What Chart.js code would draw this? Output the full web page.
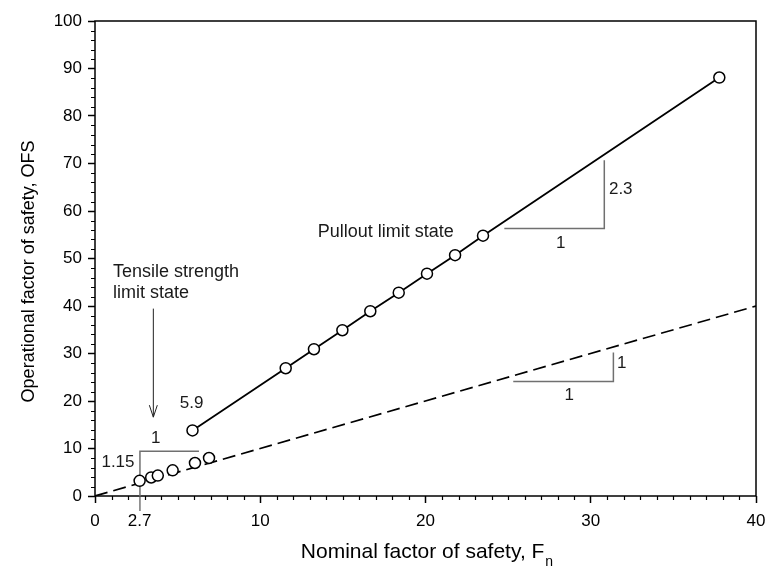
<!DOCTYPE html>
<html>
<head>
<meta charset="utf-8">
<script src="https://cdn.jsdelivr.net/npm/chart.js@4.4.0/dist/chart.umd.min.js"></script>
<style>
  html, body { margin: 0; padding: 0; background: #fff; }
  #wrap { width: 766px; height: 576px; }
</style>
</head>
<body>
<div id="wrap"><canvas id="chart" width="766" height="576"></canvas></div>
<script>
// Pullout limit state (upper line)
const pulloutFn = [5.9, 11.54, 13.25, 14.97, 16.66, 18.38, 20.09, 21.79, 23.48, 37.78];
const pulloutOFS = [13.8, 26.9, 30.9, 34.9, 38.9, 42.8, 46.8, 50.7, 54.8, 88.1];

// Tensile strength limit state (lower points)
const tensileFn = [2.7, 3.4, 3.8, 4.7, 6.05, 6.9];
const tensileOFS = [3.2, 3.9, 4.3, 5.4, 6.95, 8.0];

// 1:1 reference line
const refFn = [0, 40];
const refOFS = [0, 40];

// tick labels
const xTickValues = [0, 2.7, 10, 20, 30, 40];
const yTickValues = [0, 10, 20, 30, 40, 50, 60, 70, 80, 90, 100];

const FONT = "'Liberation Sans', Arial, sans-serif";
const toPoints = (xs, ys) => xs.map((x, i) => ({ x: x, y: ys[i] }));

// slope triangles, arrows and text labels, in data coordinates
const annotations = {
  lines: [
    { pts: [[24.77, 56.3], [30.82, 56.3], [30.82, 70.7]], color: "#707070" },
    { pts: [[25.31, 24.1], [31.37, 24.1], [31.37, 30.2]], color: "#707070" },
    { pts: [[6.29, 9.4], [2.72, 9.4], [2.72, 0]], color: "#707070" }
  ],
  texts: [
    { text: "2.3", x: 31.1, y: 64.5, align: "left", size: 17 },
    { text: "1", x: 28.18, y: 53.3, align: "center", size: 17 },
    { text: "1", x: 31.87, y: 27.9, align: "center", size: 17 },
    { text: "1", x: 28.7, y: 21.2, align: "center", size: 17 },
    { text: "1.15", x: 1.39, y: 7.1, align: "center", size: 17 },
    { text: "1", x: 3.67, y: 12.05, align: "center", size: 17 },
    { text: "5.9", x: 5.85, y: 19.6, align: "center", size: 17 },
    { text: "Pullout limit state", x: 17.6, y: 55.5, align: "center", size: 18 },
    { text: "Tensile strength", x: 1.09, y: 47.2, align: "left", size: 18 },
    { text: "limit state", x: 1.09, y: 42.7, align: "left", size: 18 }
  ],
  arrow: { x: 3.53, yTop: 39.45, yBottom: 16.6 }
};

const decorPlugin = {
  id: "decor",
  beforeDatasetsDraw(chart) {
    const { ctx, chartArea: a, scales: { x, y } } = chart;
    ctx.save();
    // frame
    ctx.strokeStyle = "#000";
    ctx.lineWidth = 1.5;
    ctx.strokeRect(a.left, a.top, a.right - a.left, a.bottom - a.top);
    // minor ticks
    ctx.lineWidth = 1.2;
    ctx.beginPath();
    for (let v = 2; v < 100; v += 2) {
      if (v % 10 === 0) continue;
      const py = Math.round(y.getPixelForValue(v)) + 0.5;
      ctx.moveTo(a.left - 4, py);
      ctx.lineTo(a.left, py);
    }
    for (let v = 1; v < 40; v += 1) {
      if (v % 10 === 0) continue;
      const px = Math.round(x.getPixelForValue(v)) + 0.5;
      ctx.moveTo(px, a.bottom);
      ctx.lineTo(px, a.bottom + 4);
    }
    ctx.stroke();
    // triangles
    ctx.lineWidth = 1.5;
    annotations.lines.forEach((l) => {
      ctx.strokeStyle = l.color;
      ctx.beginPath();
      l.pts.forEach((p, i) => {
        const px = x.getPixelForValue(p[0]);
        const py = y.getPixelForValue(p[1]);
        if (i === 0) ctx.moveTo(px, py);
        else ctx.lineTo(px, py);
      });
      ctx.stroke();
    });
    // 2.7 marker continues below axis
    const px27 = x.getPixelForValue(2.72);
    ctx.strokeStyle = "#555";
    ctx.lineWidth = 1.2;
    ctx.beginPath();
    ctx.moveTo(px27, a.bottom);
    ctx.lineTo(px27, a.bottom + 15);
    ctx.stroke();
    ctx.restore();
  },
  afterDatasetsDraw(chart) {
    const { ctx, chartArea: a, scales: { x, y } } = chart;
    ctx.save();
    ctx.fillStyle = "#1a1a1a";
    ctx.textBaseline = "middle";
    annotations.texts.forEach((t) => {
      ctx.font = t.size + "px " + FONT;
      ctx.textAlign = t.align;
      ctx.fillText(t.text, x.getPixelForValue(t.x), y.getPixelForValue(t.y));
    });
    // arrow
    const ar = annotations.arrow;
    const ax = x.getPixelForValue(ar.x);
    const ay1 = y.getPixelForValue(ar.yTop);
    const ay2 = y.getPixelForValue(ar.yBottom);
    ctx.strokeStyle = "#222";
    ctx.lineWidth = 1;
    ctx.beginPath();
    ctx.moveTo(ax, ay1);
    ctx.lineTo(ax, ay2);
    ctx.moveTo(ax - 4, ay2 - 12);
    ctx.lineTo(ax, ay2);
    ctx.lineTo(ax + 4, ay2 - 12);
    ctx.stroke();
    // axis titles
    ctx.fillStyle = "#000";
    ctx.textBaseline = "alphabetic";
    const main = "Nominal factor of safety, F";
    ctx.font = "21px " + FONT;
    const mw = ctx.measureText(main).width;
    ctx.font = "14px " + FONT;
    const sw = ctx.measureText("n").width;
    const cx = (a.left + a.right) / 2 + 1;
    const startX = cx - (mw + sw) / 2;
    ctx.textAlign = "left";
    ctx.font = "21px " + FONT;
    ctx.fillText(main, startX, 558);
    ctx.font = "14px " + FONT;
    ctx.fillText("n", startX + mw + 1, 566);
    ctx.save();
    ctx.translate(34, (a.top + a.bottom) / 2 + 13);
    ctx.rotate(-Math.PI / 2);
    ctx.textAlign = "center";
    ctx.font = "18px " + FONT;
    ctx.fillText("Operational factor of safety, OFS", 0, 0);
    ctx.restore();
    ctx.restore();
  }
};

const pointStyle = {
  pointRadius: 5.5,
  pointHoverRadius: 5.5,
  pointBackgroundColor: "#fff",
  pointBorderColor: "#000",
  pointBorderWidth: 1.5
};

new Chart(document.getElementById("chart"), {
  type: "scatter",
  data: {
    datasets: [
      Object.assign({
        label: "Pullout limit state",
        data: toPoints(pulloutFn, pulloutOFS),
        showLine: true,
        borderColor: "#000",
        borderWidth: 1.8,
        order: 0
      }, pointStyle),
      Object.assign({
        label: "Tensile strength limit state",
        data: toPoints(tensileFn, tensileOFS),
        showLine: false,
        order: 1
      }, pointStyle),
      {
        label: "1:1",
        data: toPoints(refFn, refOFS),
        showLine: true,
        borderColor: "#000",
        borderWidth: 1.7,
        borderDash: [13, 6],
        pointRadius: 0,
        order: 2
      }
    ]
  },
  options: {
    responsive: false,
    animation: false,
    layout: { padding: { top: 21, right: 10, left: 0, bottom: 0 } },
    plugins: { legend: { display: false }, tooltip: { enabled: false } },
    scales: {
      x: {
        type: "linear",
        min: 0,
        max: 40,
        afterBuildTicks: (scale) => { scale.ticks = xTickValues.map((v) => ({ value: v })); },
        afterFit: (scale) => {
          scale.height = 80;
          scale.paddingLeft = 0;
          scale.paddingRight = 0;
        },
        border: { display: false },
        grid: {
          drawOnChartArea: false,
          drawTicks: true,
          tickLength: 7,
          tickWidth: 1.5,
          tickColor: (c) => (c.tick && c.tick.value === 2.7 ? "rgba(0,0,0,0)" : "#000")
        },
        ticks: {
          color: "#000",
          padding: 8,
          maxRotation: 0,
          autoSkip: false,
          font: { family: FONT, size: 17 },
          callback: (v) => String(v)
        }
      },
      y: {
        type: "linear",
        min: 0,
        max: 100,
        afterBuildTicks: (scale) => { scale.ticks = yTickValues.map((v) => ({ value: v })); },
        afterFit: (scale) => {
          scale.width = 95;
          scale.paddingTop = 0;
          scale.paddingBottom = 0;
        },
        border: { display: false },
        grid: {
          drawOnChartArea: false,
          drawTicks: true,
          tickLength: 7,
          tickWidth: 1.5,
          tickColor: "#000"
        },
        ticks: {
          color: "#000",
          padding: 6,
          autoSkip: false,
          font: { family: FONT, size: 17 },
          callback: (v) => String(v)
        }
      }
    }
  },
  plugins: [decorPlugin]
});
</script>
</body>
</html>
